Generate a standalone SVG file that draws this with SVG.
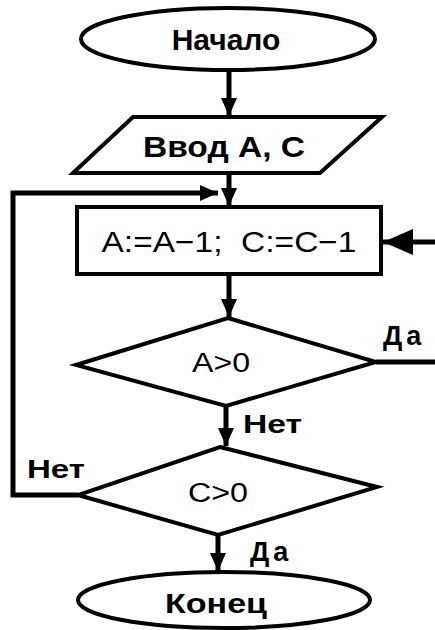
<svg xmlns="http://www.w3.org/2000/svg" width="435" height="630" viewBox="0 0 435 630">
<defs>
<style>
.shape{fill:#fff;stroke:#000;stroke-width:4;stroke-linejoin:miter}
.conn{fill:none;stroke:#000;stroke-width:5}
.t{font-family:"Liberation Sans",Arial,sans-serif;fill:#000;text-anchor:middle}
.b{font-weight:bold}
.lbl{font-family:"Liberation Sans",Arial,sans-serif;font-weight:bold;fill:#000}
</style>
<marker id="arr" markerUnits="userSpaceOnUse" markerWidth="18" markerHeight="16" refX="18" refY="8" orient="auto">
<path d="M0,0 L18,8 L0,16 Z" fill="#000"/>
</marker>
<marker id="arrBig" markerUnits="userSpaceOnUse" markerWidth="30" markerHeight="26" refX="30" refY="13" orient="auto">
<path d="M0,0 L30,13 L0,26 Z" fill="#000"/>
</marker>
</defs>
<rect width="435" height="630" fill="#fff"/>
<g id="connectors">
<line class="conn" x1="229" y1="70" x2="229" y2="116" marker-end="url(#arr)"/>
<line class="conn" x1="229" y1="173" x2="229" y2="206" marker-end="url(#arr)"/>
<line class="conn" x1="229" y1="274" x2="229" y2="317" marker-end="url(#arr)"/>
<line class="conn" x1="226" y1="406" x2="226" y2="446" marker-end="url(#arr)"/>
<line class="conn" x1="218" y1="535" x2="218" y2="571" marker-end="url(#arr)"/>
<polyline class="conn" points="78,495 13,495 13,193 218,193" marker-end="url(#arr)"/>
<line class="conn" x1="376" y1="362" x2="435" y2="362"/>
<line class="conn" x1="435" y1="242" x2="383" y2="242" marker-end="url(#arrBig)"/>
<text class="lbl" x="383" y="345" font-size="27" letter-spacing="4">Да</text>
<text class="lbl" x="243" y="433" font-size="25" textLength="59" lengthAdjust="spacingAndGlyphs">Нет</text>
<text class="lbl" x="27" y="478" font-size="25" textLength="58" lengthAdjust="spacingAndGlyphs">Нет</text>
<text class="lbl" x="250" y="561" font-size="27" letter-spacing="4">Да</text>
</g>
<g id="start">
<ellipse class="shape" cx="228" cy="39" rx="147" ry="31"/>
<text class="t b" x="226" y="50" font-size="30">Начало</text>
</g>
<g id="input">
<polygon class="shape" points="133,117 382,117 320,173 73,173"/>
<text class="t b" x="224" y="157" font-size="30" textLength="162" lengthAdjust="spacingAndGlyphs">Ввод А, С</text>
</g>
<g id="process">
<rect class="shape" x="77" y="207" width="304" height="67" stroke-width="3.5"/>
<text class="t" x="229" y="252" font-size="29" textLength="255" lengthAdjust="spacingAndGlyphs" xml:space="preserve">A:=A−1;  C:=C−1</text>
</g>
<g id="condA">
<polygon class="shape" points="228,318 376,362 226,406 76,365"/>
<text class="t" x="221" y="372" font-size="27" textLength="58" lengthAdjust="spacingAndGlyphs">A&gt;0</text>
</g>
<g id="condC">
<polygon class="shape" points="220,447 377,487 218,535 78,495"/>
<text class="t" x="218" y="502" font-size="27" textLength="60" lengthAdjust="spacingAndGlyphs">C&gt;0</text>
</g>
<g id="end">
<ellipse class="shape" cx="224" cy="600" rx="146" ry="28"/>
<text class="t b" x="216" y="613" font-size="28" textLength="102" lengthAdjust="spacingAndGlyphs">Конец</text>
</g>
</svg>
